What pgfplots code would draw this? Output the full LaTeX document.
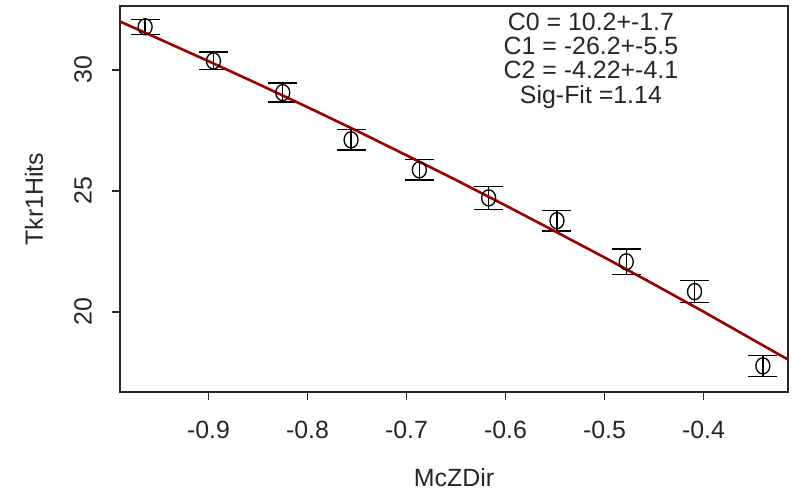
\documentclass[border=0pt]{standalone}
\usepackage{pgfplots}
\pgfplotsset{compat=1.18}
\usepackage{fontspec}
\setmainfont{Liberation Sans}
\definecolor{fitred}{RGB}{155,0,0}
\definecolor{frame}{RGB}{40,40,40}
\begin{document}
\begin{tikzpicture}
\begin{axis}[name=ax, at={(0,0)}, anchor=south west,
  scale only axis, width=668bp, height=386bp,
  xmin=-0.9894, xmax=-0.3146, ymin=16.69, ymax=32.64,
  axis line style={line width=1.5bp, frame},
  xtick={-0.9,-0.8,-0.7,-0.6,-0.5,-0.4},
  xticklabels={-0.9,-0.8,-0.7,-0.6,-0.5,-0.4},
  ytick={20,25,30}, yticklabels={20,25,30},
  tick align=outside, xtick pos=bottom, ytick pos=left,
  major tick length=8bp,
  tick style={line width=1.5bp, frame},
  ticklabel style={font=\fontsize{25}{30}\selectfont, inner sep=0pt, text=black!85},
  xticklabel shift=21bp,
  yticklabel style={rotate=90, anchor=south},
  yticklabel shift=20bp,
  xlabel={McZDir}, ylabel={Tkr1Hits},
  label style={font=\fontsize{25}{30}\selectfont, inner sep=0pt, text=black!85},
  xlabel style={at={(rel axis cs:0.5,0)}, anchor=north, yshift=-76bp},
  ylabel style={at={(rel axis cs:-0.1287,0.5)}, anchor=center},
  clip=false,
]
\addplot[black, only marks, mark=o, mark size=7bp, mark options={line width=1.3bp, yscale=1.15},
  error bars/.cd, y dir=both, y explicit,
  error bar style={line width=1.5bp, black},
  error mark options={rotate=90, mark size=14.5bp, line width=1.5bp, black}]
coordinates {
(-0.964,31.78) +- (0,0.31)
(-0.895,30.37) +- (0,0.36)
(-0.825,29.06) +- (0,0.39)
(-0.756,27.11) +- (0,0.43)
(-0.687,25.87) +- (0,0.43)
(-0.617,24.71) +- (0,0.47)
(-0.548,23.77) +- (0,0.43)
(-0.478,22.07) +- (0,0.52)
(-0.409,20.84) +- (0,0.45)
(-0.340,17.77) +- (0,0.43)
};
\addplot[fitred, line width=2.6bp, no marks] coordinates {
(-0.9894,32.00) (-0.95,31.28) (-0.90,30.36) (-0.85,29.42) (-0.80,28.46)
(-0.75,27.48) (-0.70,26.47) (-0.65,25.45) (-0.60,24.40) (-0.55,23.33)
(-0.50,22.25) (-0.45,21.14) (-0.40,20.01) (-0.35,18.85) (-0.3146,18.03)
};
\node[anchor=north, align=center, inner sep=0pt, text=black!85,
  font=\fontsize{25}{24.5}\selectfont, yshift=-6.5bp]
  at (rel axis cs:0.705,1) {C0 = 10.2+-1.7\\C1 = -26.2+-5.5\\C2 = -4.22+-4.1\\Sig-Fit =1.14};
\end{axis}
\pgfresetboundingbox
\path[use as bounding box] ([shift={(-120bp,-105bp)}]ax.south west) rectangle ([shift={(4bp,6bp)}]ax.north east);
\end{tikzpicture}
\end{document}
